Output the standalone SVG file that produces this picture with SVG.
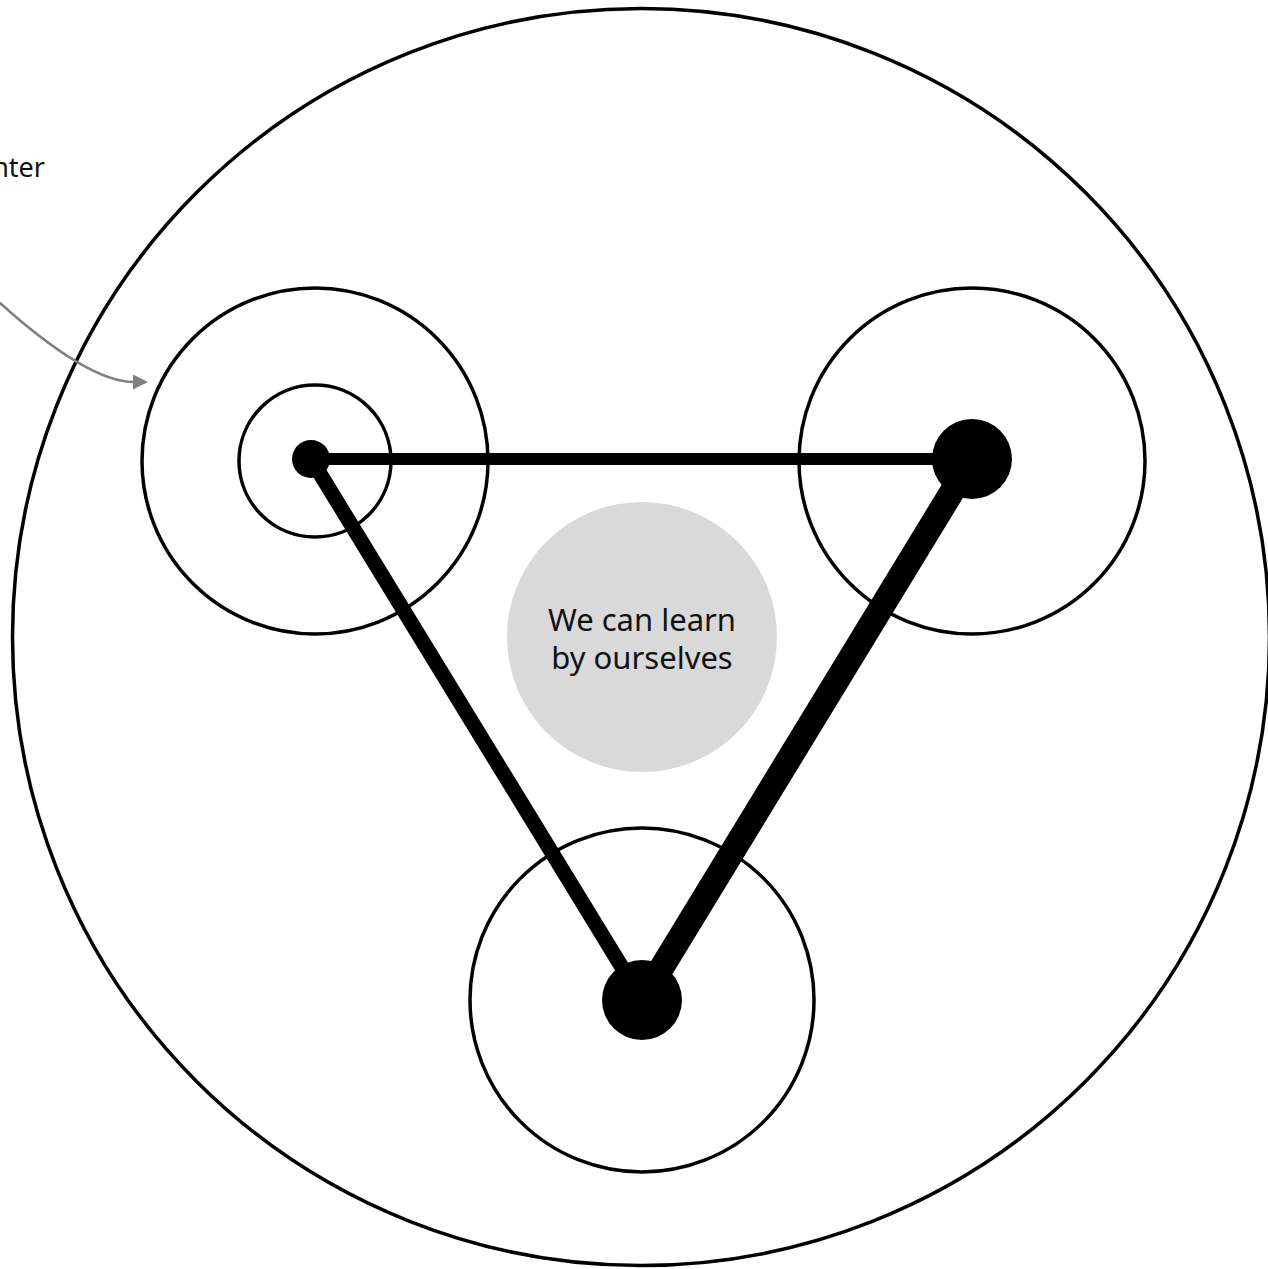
<svg xmlns="http://www.w3.org/2000/svg" width="1268" height="1269" viewBox="0 0 1268 1269">
  <style>
    .ring { fill: none; stroke: #000; stroke-width: 3.5; }
    .dot { fill: #000; }
    .edge { stroke: #000; stroke-linecap: butt; fill: none; }
    .label { font-family: "Noto Sans", "Open Sans", sans-serif; font-size: 31px; fill: #111; }
    .pointer { fill: none; stroke: #808080; stroke-width: 2.5; }
  </style>
  <defs>
    <marker id="arrow" markerUnits="userSpaceOnUse" markerWidth="16" markerHeight="16" refX="1" refY="7.5" orient="auto">
      <path d="M0,0 L15,7.5 L0,15 z" fill="#808080"/>
    </marker>
  </defs>
  <rect width="1268" height="1269" fill="#fff"/>

  <g id="outer-circle">
    <circle class="ring" cx="641" cy="637" r="628.5"/>
  </g>

  <g id="node-left">
    <circle class="ring" cx="315" cy="461" r="173"/>
    <circle class="ring" cx="315" cy="461" r="76"/>
  </g>
  <g id="node-right">
    <circle class="ring" cx="972" cy="461" r="173"/>
  </g>
  <g id="node-bottom">
    <circle class="ring" cx="642" cy="1000" r="172"/>
  </g>

  <g id="center-node">
    <circle cx="642" cy="637" r="135" fill="#d9d9d9"/>
    <text class="label" x="642" y="631" text-anchor="middle">We can learn</text>
    <text class="label" x="642" y="669" text-anchor="middle">by ourselves</text>
  </g>

  <g id="connectors">
    <line class="edge" x1="311" y1="459" x2="972" y2="459" stroke-width="12"/>
    <line class="edge" x1="311" y1="459" x2="642" y2="1000" stroke-width="15"/>
    <line class="edge" x1="972" y1="459" x2="642" y2="1000" stroke-width="25"/>
    <path class="pointer" d="M -12 291 L 0 303 Q 88 382 134 382" marker-end="url(#arrow)"/>
  </g>

  <g id="dots">
    <circle class="dot" cx="311" cy="459" r="19"/>
    <circle class="dot" cx="972" cy="459" r="40"/>
    <circle class="dot" cx="642" cy="1000" r="40"/>
  </g>

  <g id="pointer-label">
    <text class="label" x="45" y="177" text-anchor="end" style="font-size:27px">nter</text>
  </g>
</svg>
